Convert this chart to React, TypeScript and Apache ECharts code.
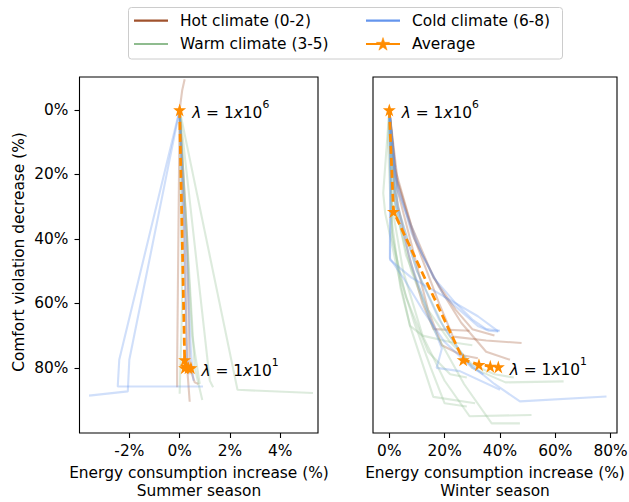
import React, { useEffect, useRef } from "react";
import * as echarts from "echarts";

// ---------- data ----------
type Pt = [number, number];

const summerHot: Pt[][] = [
  [[0.2, -9.5], [0.1, -6], [0, 0], [-0.05, 40], [-0.1, 80], [-0.1, 86]],
  [[0, 0], [0.2, 40], [0.3, 80], [0.4, 90.5]],
  [[0, 0], [0.3, 40], [0.4, 80], [0.6, 84.5], [0.75, 85]],
];
const summerWarm: Pt[][] = [
  [[0, 0], [2.3, 86.8], [5.3, 87.8]],
  [[0, 0], [1.2, 84], [1.33, 86]],
  [[0, 0], [0.6, 80], [0.9, 90]],
  [[0, 0], [0.1, 60], [0.0, 88]],
  [[0, 0], [0.5, 70], [0.8, 85]],
];
const summerCold: Pt[][] = [
  [[0, 0], [-2.4, 77.5], [-2.46, 85.8], [0.93, 85.8]],
  [[0, 0], [-2, 77.5], [-2.06, 87.3], [-3.6, 88.6]],
  [[0, 0], [0.45, 75], [0.55, 84]],
  [[0, 0], [0.3, 77], [0.4, 82]],
];
const summerAvg: Pt[] = [[0, 0], [0.2, 77.5], [0.25, 79.5], [0.2, 80], [0.35, 80], [0.45, 80]];

const winterHot: Pt[][] = [
  [[0, 0], [2, 25], [7, 45], [12, 60], [16, 68], [29, 68.5]],
  [[0, 0], [3, 22], [10, 42], [18, 60], [23, 70.3], [35, 71.5], [47.8, 72.3]],
  [[0, 0], [2, 20], [9, 40], [18, 55], [26, 66], [35, 75], [43.6, 77.5]],
  [[0, 0], [3, 25], [9, 45], [14, 62], [19, 73], [26, 76], [32, 77]],
  [[0, 0], [2, 18], [8, 36], [16, 52], [24, 62], [30, 68], [38, 70]],
];
const winterWarm: Pt[][] = [
  [[0, 0], [-2.2, 25.8], [-1.5, 32], [3, 50], [7.5, 67], [15.9, 89], [31, 91]],
  [[0, 0], [1, 30], [5, 50], [12, 70], [20, 84], [29, 95], [51.4, 94.6]],
  [[0, 0], [2, 30], [8, 50], [16, 68], [27, 85], [37, 97.2], [47.2, 97.2]],
  [[0, 0], [3, 30], [10, 50], [20, 68], [30, 80], [42, 84.5], [63, 84.2]],
  [[0, 0], [1, 35], [4, 55], [7.5, 67], [12, 70], [22, 72], [30, 73]],
  [[0, 0], [2, 28], [6, 45], [14, 62], [22, 72], [30, 79], [38, 82], [45, 83]],
  [[0, 0], [-0.5, 10], [1, 40], [6, 58], [14, 75], [22, 82], [28, 83]],
  [[0, 0], [1, 38], [4, 52], [9, 66], [15, 80], [20, 91], [28, 92]],
];
const winterCold: Pt[][] = [
  [[0, 0], [0.5, 20], [0.25, 46.5], [8, 52], [21.9, 58.9], [32, 64], [39.4, 68.7]],
  [[0, 0], [3, 25], [12, 45], [20, 58], [32, 67], [36, 68.5], [39.4, 68.7]],
  [[0, 0], [2, 28], [8, 48], [14, 63], [19, 74], [17.1, 80], [25.5, 81], [40, 86.8]],
  [[0, 0], [3, 30], [10, 50], [18, 65], [28, 78], [38, 85], [47.2, 90.4], [78.5, 88.9]],
  [[0, 0], [0.3, 20], [0.2, 46], [5, 52], [12, 62], [20, 72], [30, 80], [34, 82]],
  [[0, 0], [2, 20], [8, 38], [16, 52], [24, 60], [30, 65], [35, 68], [40, 68.5]],
];
const winterAvg: Pt[] = [[0, 0], [1.5, 31.5], [26.7, 77.5], [32.4, 79], [36.5, 79.5], [39.4, 79.7]];

const yTicks = [0, 20, 40, 60, 80];
const summerXTicks = [-2, 0, 2, 4];
const winterXTicks = [0, 20, 40, 60, 80];

const legendLabels = ["Hot climate (0-2)", "Warm climate (3-5)", "Cold climate (6-8)", "Average"];
const seasonLabels = ["Summer season", "Winter season"];
const xTitle = "Energy consumption increase (%)";
const yTitle = "Comfort violation decrease (%)";

// ---------- styles ----------
const HOT = "#a0522d";
const WARM = "#8fbc8f";
const COLD = "#6495ed";
const AVG = "#ff8c00";
const FONT = "DejaVu Sans";
const FS = 15.4;

function starPoints(cx: number, cy: number, r: number): number[][] {
  const pts: number[][] = [];
  for (let i = 0; i < 10; i++) {
    const rr = i % 2 === 0 ? r : r * 0.382;
    const a = -Math.PI / 2 + (i * Math.PI) / 5;
    pts.push([cx + rr * Math.cos(a), cy + rr * Math.sin(a)]);
  }
  return pts;
}
const STAR =
  "path://M" +
  starPoints(50, 50, 50)
    .map((p) => `${p[0].toFixed(2)} ${p[1].toFixed(2)}`)
    .join(" L") +
  " Z";

const lambdaRich = {
  n: { fontSize: FS, fontFamily: FONT, color: "#000", lineHeight: 22, verticalAlign: "bottom" },
  i: { fontSize: FS, fontFamily: FONT, fontStyle: "italic", color: "#000", lineHeight: 22, verticalAlign: "bottom" },
  s: { fontSize: 10.8, fontFamily: FONT, color: "#000", lineHeight: 22, verticalAlign: "top" },
};

export default function App() {
  const ref = useRef<HTMLDivElement>(null);
  useEffect(() => {
    if (!ref.current) return;
    const chart = echarts.init(ref.current, undefined, { renderer: "svg" });

    const thin = (data: Pt[], color: string, idx: number) => ({
      type: "line",
      xAxisIndex: idx,
      yAxisIndex: idx,
      data,
      symbol: "none",
      silent: true,
      z: 2,
      lineStyle: { color, width: 2.1, opacity: 0.3 },
    });

    const avgSeries = (data: Pt[], idx: number, topDist: number, botDist: number) => ({
      type: "line",
      xAxisIndex: idx,
      yAxisIndex: idx,
      z: 5,
      symbol: STAR,
      symbolSize: 13,
      itemStyle: { color: AVG },
      lineStyle: { color: AVG, width: 2.8, type: [8, 4] },
      data: data.map((p, k) => {
        if (k === 0)
          return {
            value: p,
            label: {
              show: true,
              position: "right",
              distance: topDist,
              formatter: "{i|λ}{n| = 1}{i|x}{n|10}{s|6}",
              rich: lambdaRich,
            },
          };
        if (k === data.length - 1)
          return {
            value: p,
            label: {
              show: true,
              position: "right",
              distance: botDist,
              formatter: "{i|λ}{n| = 1}{i|x}{n|10}{s|1}",
              rich: lambdaRich,
            },
          };
        return { value: p };
      }),
    });

    const series: any[] = [];
    summerHot.forEach((d) => series.push(thin(d, HOT, 0)));
    summerWarm.forEach((d) => series.push(thin(d, WARM, 0)));
    summerCold.forEach((d) => series.push(thin(d, COLD, 0)));
    winterHot.forEach((d) => series.push(thin(d, HOT, 1)));
    winterWarm.forEach((d) => series.push(thin(d, WARM, 1)));
    winterCold.forEach((d) => series.push(thin(d, COLD, 1)));
    series.push(avgSeries(summerAvg, 0, 6, 4));
    series.push(avgSeries(winterAvg, 1, 6, 5));

    const xAxisBase = (min: number, max: number, ticks: number[], gi: number) => ({
      type: "value",
      gridIndex: gi,
      position: "bottom",
      min,
      max,
      splitLine: { show: false },
      axisLine: { show: false, onZero: false },
      axisTick: { show: true, length: 5, lineStyle: { color: "#000", width: 1.1 }, customValues: ticks },
      axisLabel: {
        show: true,
        margin: 10,
        customValues: ticks,
        color: "#000",
        fontSize: FS,
        fontFamily: FONT,
        formatter: (v: number) => `${v}%`,
      },
    });
    const yAxisBase = (gi: number, showLabels: boolean) => ({
      type: "value",
      gridIndex: gi,
      position: "left",
      inverse: true,
      min: -10.2,
      max: 100.2,
      splitLine: { show: false },
      axisLine: { show: false, onZero: false },
      axisTick: { show: showLabels, length: 5, lineStyle: { color: "#000", width: 1.1 }, customValues: yTicks },
      axisLabel: {
        show: showLabels,
        margin: 11,
        customValues: yTicks,
        color: "#000",
        fontSize: FS,
        fontFamily: FONT,
        formatter: (v: number) => `${v}%`,
      },
    });

    const legendRow = [20.7, 44];
    const col1 = 134;
    const col2 = 366;
    const legendItems = [
      { x: col1, y: legendRow[0], color: HOT, text: legendLabels[0] },
      { x: col1, y: legendRow[1], color: WARM, text: legendLabels[1] },
      { x: col2, y: legendRow[0], color: COLD, text: legendLabels[2] },
      { x: col2, y: legendRow[1], color: AVG, text: legendLabels[3] },
    ];
    const graphic: any[] = [
      {
        type: "rect",
        shape: { x: 128.5, y: 7.5, width: 434, height: 51.5, r: 3 },
        style: { fill: "rgba(255,255,255,0.8)", stroke: "#cccccc", lineWidth: 1 },
        z: 10,
      },
    ];
    legendItems.forEach((it) => {
      graphic.push({
        type: "line",
        shape: { x1: it.x, y1: it.y, x2: it.x + 34, y2: it.y },
        style: { stroke: it.color, lineWidth: 2.2 },
        z: 11,
      });
      graphic.push({
        type: "text",
        x: it.x + 46,
        y: it.y,
        style: { text: it.text, fontSize: FS, fontFamily: FONT, fill: "#000", align: "left", verticalAlign: "middle" },
        z: 11,
      });
    });
    graphic.push({
      type: "polygon",
      shape: { points: starPoints(col2 + 17, legendRow[1] + 0.5, 7) },
      style: { fill: AVG, stroke: AVG, lineWidth: 0.5 },
      z: 12,
    });
    const centers = [199, 495];
    centers.forEach((cx, k) => {
      graphic.push({
        type: "text",
        x: cx,
        y: 473,
        style: { text: xTitle, fontSize: FS, fontFamily: FONT, fill: "#000", align: "center", verticalAlign: "middle" },
      });
      graphic.push({
        type: "text",
        x: cx,
        y: 491,
        style: { text: seasonLabels[k], fontSize: FS, fontFamily: FONT, fill: "#000", align: "center", verticalAlign: "middle" },
      });
    });
    graphic.push({
      type: "text",
      x: 18.5,
      y: 252,
      rotation: Math.PI / 2,
      style: { text: yTitle, fontSize: FS, fontFamily: FONT, fill: "#000", align: "center", verticalAlign: "middle" },
    });

    chart.setOption({
      animation: false,
      backgroundColor: "#fff",
      grid: [
        { left: 79.5, top: 77, width: 238.5, height: 356, show: true, borderColor: "#000", borderWidth: 1.1, outerBoundsMode: "none" },
        { left: 373, top: 77, width: 244, height: 356, show: true, borderColor: "#000", borderWidth: 1.1, outerBoundsMode: "none" },
      ],
      xAxis: [xAxisBase(-3.98, 5.5, summerXTicks, 0), xAxisBase(-5.9, 82.3, winterXTicks, 1)],
      yAxis: [yAxisBase(0, true), yAxisBase(1, false)],
      series,
      graphic,
    });
    return () => chart.dispose();
  }, []);
  return <div ref={ref} style={{ position: "fixed", left: 0, top: 0, width: 629, height: 502 }} />;
}
